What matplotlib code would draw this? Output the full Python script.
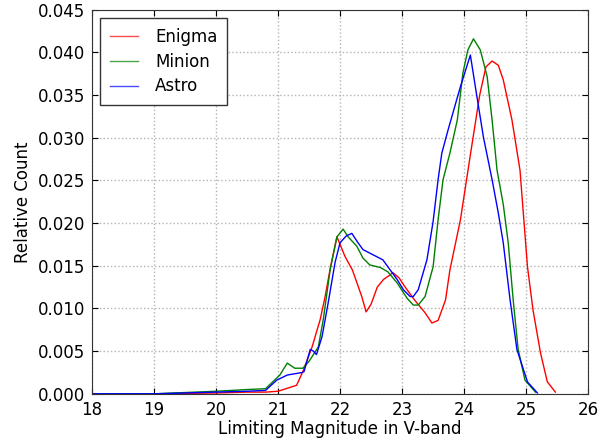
import matplotlib
matplotlib.use("Agg")
import matplotlib.pyplot as plt

enigma_x = [18.0, 19.0, 20.0, 20.5, 20.8, 21.0, 21.3, 21.4, 21.55, 21.68, 21.76, 21.85, 21.95,
            22.08, 22.2, 22.35, 22.42, 22.5, 22.6, 22.7, 22.8, 22.85, 22.95, 23.05, 23.2, 23.37,
            23.48, 23.58, 23.7, 23.77, 23.94, 24.1, 24.25, 24.35, 24.45, 24.55, 24.63, 24.77,
            24.9, 25.02, 25.11, 25.23, 25.34, 25.47]
enigma_y = [0.0, 0.0, 0.0001, 0.0002, 0.0002, 0.0003, 0.001, 0.0026, 0.0055, 0.0087, 0.0114,
            0.015, 0.0184, 0.0161, 0.0145, 0.0114, 0.0096, 0.0105, 0.0125, 0.0134, 0.0139,
            0.0142, 0.0136, 0.0125, 0.011, 0.0095, 0.0083, 0.0086, 0.011, 0.0145, 0.0204,
            0.0280, 0.0350, 0.0383, 0.0390, 0.0385, 0.0368, 0.0321, 0.0262, 0.0149, 0.0098,
            0.0048, 0.0014, 0.0002]

minion_x = [18.0, 19.0, 20.0, 20.5, 20.8, 21.03, 21.15, 21.27, 21.4, 21.5, 21.65, 21.73, 21.84,
            21.95, 22.05, 22.13, 22.27, 22.37, 22.48, 22.65, 22.77, 22.92, 23.08, 23.18, 23.26,
            23.37, 23.5, 23.58, 23.66, 23.77, 23.89, 23.98, 24.06, 24.15, 24.26, 24.37, 24.45,
            24.53, 24.63, 24.71, 24.79, 24.87, 24.98, 25.15]
minion_y = [0.0, 0.0, 0.0003, 0.0005, 0.0006, 0.0022, 0.0036, 0.003, 0.003, 0.0038, 0.0055,
            0.0087, 0.0145, 0.0184, 0.0193, 0.0184, 0.0173, 0.0159, 0.0151, 0.0148, 0.0143,
            0.013, 0.0112, 0.0104, 0.0104, 0.0114, 0.0149, 0.0204, 0.0251, 0.0282, 0.0321,
            0.0376, 0.0403, 0.0416, 0.0403, 0.0372, 0.0321, 0.0262, 0.0222, 0.0177, 0.011,
            0.0052, 0.0016, 0.0002]

astro_x = [18.0, 19.0, 20.0, 20.5, 20.8, 20.98, 21.15, 21.39, 21.42, 21.52, 21.57, 21.62, 21.71,
           21.81, 21.92, 22.0, 22.1, 22.19, 22.29, 22.37, 22.53, 22.69, 22.77, 22.92, 23.02,
           23.13, 23.18, 23.26, 23.4, 23.5, 23.58, 23.64, 23.74, 23.94, 24.1, 24.18, 24.31,
           24.45, 24.55, 24.63, 24.74, 24.85, 25.02, 25.18]
astro_y = [0.0, 0.0, 0.0002, 0.0003, 0.0004, 0.0016, 0.0022, 0.0025, 0.0026, 0.0052, 0.0050,
           0.0046, 0.0067, 0.0107, 0.0154, 0.0177, 0.0185, 0.0188, 0.0177, 0.0169, 0.0163,
           0.0157, 0.0149, 0.0134, 0.0122, 0.0114, 0.0114, 0.0122, 0.0157, 0.0202, 0.0251,
           0.0282, 0.0309, 0.036, 0.0397, 0.036, 0.0301, 0.0251, 0.0212, 0.0177, 0.011,
           0.0052, 0.0014, 0.0001]

labels = ["Enigma", "Minion", "Astro"]
colors = ["red", "green", "blue"]

fig = plt.figure(figsize=(6.16, 4.46), dpi=100, facecolor="white")
ax = fig.add_axes([0.149, 0.117, 0.806, 0.861])

for xs, ys, lab, c in zip([enigma_x, minion_x, astro_x], [enigma_y, minion_y, astro_y], labels, colors):
    ax.plot(xs, ys, color=c, lw=1.0, label=lab)

ax.set_xlim(18, 26)
ax.set_ylim(0, 0.045)
ax.set_xticks(range(18, 27))
ax.set_yticks([i * 0.005 for i in range(10)])
ax.set_yticklabels(["%.3f" % (i * 0.005) for i in range(10)])
ax.tick_params(direction="in", top=True, right=True, labelsize=12, length=4, pad=5)
ax.grid(True, color="0.7", linestyle=":", linewidth=1)
ax.set_xlabel("Limiting Magnitude in V-band", fontsize=12, labelpad=1)
ax.set_ylabel("Relative Count", fontsize=12)
for s in ax.spines.values():
    s.set_color("0.2")
leg = ax.legend(loc="upper left", fontsize=12, fancybox=False, framealpha=1,
                edgecolor="0.2", handlelength=1.7, handletextpad=1.0,
                borderpad=0.6, labelspacing=0.4)
leg.get_frame().set_linewidth(1.0)
for h in leg.get_lines():
    h.set_alpha(0.7)

fig.savefig("out.png", dpi=100, facecolor="white")
